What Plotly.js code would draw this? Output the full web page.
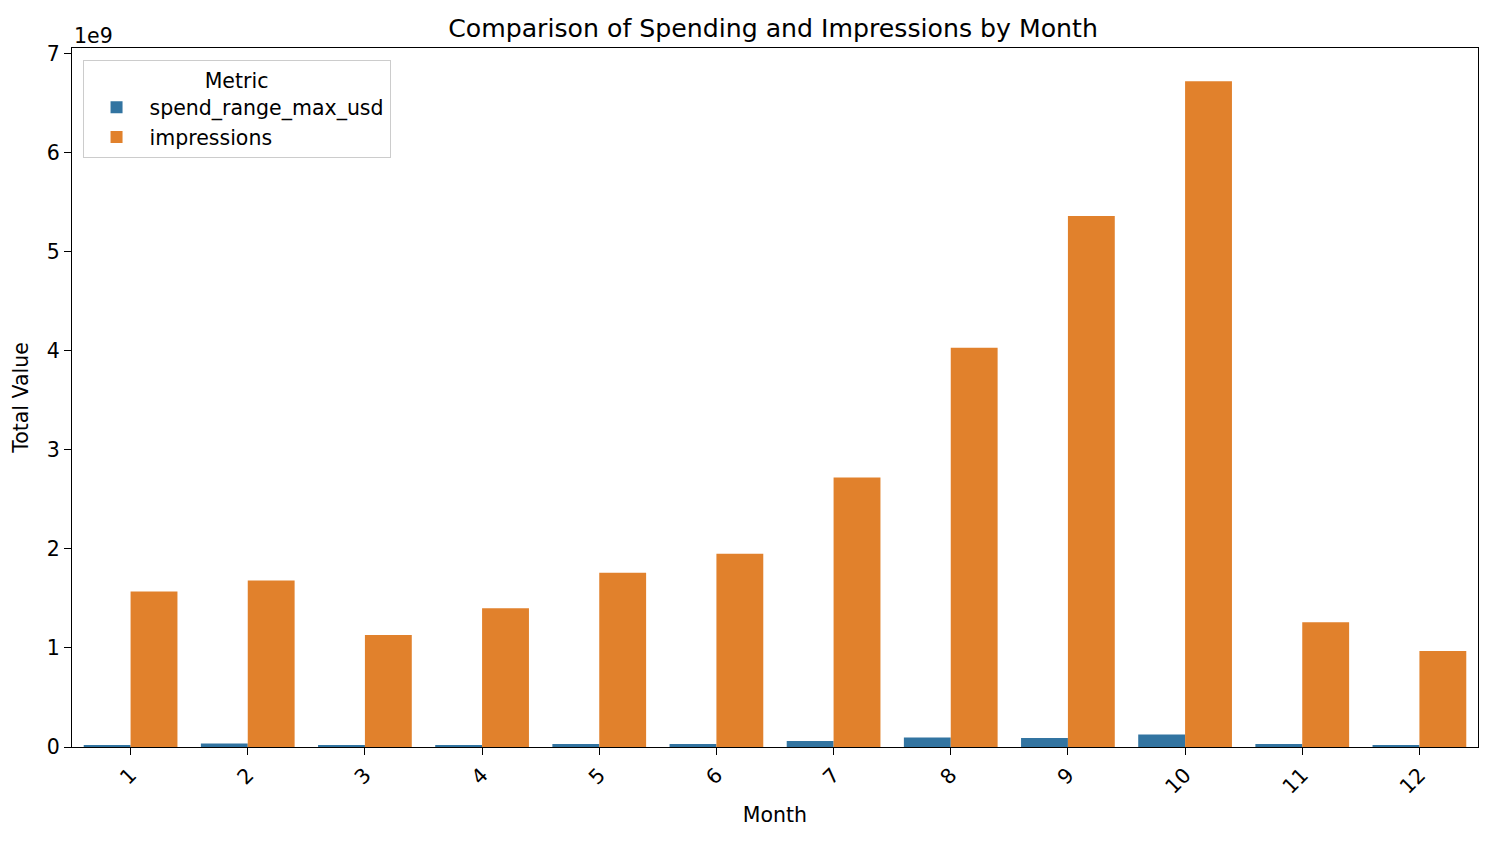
<!DOCTYPE html>
<html>
<head>
<meta charset="utf-8">
<script src="https://cdn.plot.ly/plotly-3.0.1.min.js"></script>
<style>html,body{margin:0;padding:0;background:#fff;}#chart{width:1488px;height:853px;}</style>
</head>
<body>
<div id="chart"></div>
<script>
const months = ["1","2","3","4","5","6","7","8","9","10","11","12"];
const spendRangeMaxUsd = [0.015e9, 0.035e9, 0.015e9, 0.015e9, 0.03e9, 0.03e9, 0.06e9, 0.095e9, 0.09e9, 0.125e9, 0.03e9, 0.015e9];
const impressions = [1.57e9, 1.68e9, 1.13e9, 1.40e9, 1.76e9, 1.95e9, 2.72e9, 4.03e9, 5.36e9, 6.72e9, 1.26e9, 0.97e9];
const yTickVals = [0, 1e9, 2e9, 3e9, 4e9, 5e9, 6e9, 7e9];
const yTickText = ["0","1","2","3","4","5","6","7"];

const font = "DejaVu Sans, sans-serif";
const traces = [
  {type:"bar", name:"spend_range_max_usd", x:months, y:spendRangeMaxUsd, marker:{color:"#3274a1"}},
  {type:"bar", name:"impressions", x:months, y:impressions, marker:{color:"#e1812c"}}
];
const layout = {
  width:1488, height:853,
  margin:{l:72, r:10, t:48, b:106},
  paper_bgcolor:"#fff", plot_bgcolor:"#fff",
  font:{family:font, size:20.5, color:"#000"},
  barmode:"group", bargap:0.2, bargroupgap:0,
  title:{text:"Comparison of Spending and Impressions by Month", x:0.5195, xanchor:"center", y:0.967, yanchor:"middle", font:{size:25.2, family:font}},
  xaxis:{type:"category", range:[-0.5,11.5], tickangle:-45, ticks:"outside", ticklen:7, tickcolor:"#000",
    showline:true, linecolor:"#000", linewidth:1, mirror:true, showgrid:false, zeroline:false,
    tickfont:{size:20.5}, title:{text:"Month", font:{size:20.5}, standoff:10}},
  yaxis:{range:[0,7.056e9], tickvals:yTickVals, ticktext:yTickText, ticks:"outside", ticklen:7, tickcolor:"#000",
    showline:true, linecolor:"#000", linewidth:1, mirror:true, showgrid:false, zeroline:false,
    tickfont:{size:20.5}, title:{text:"Total Value", font:{size:20.5}, standoff:12}},
  legend:{x:0.0075, y:0.983, xanchor:"left", yanchor:"top", bgcolor:"rgba(255,255,255,0.8)", bordercolor:"#cccccc", borderwidth:1,
    title:{text:"Metric", side:"top center", font:{size:20.5}}, font:{size:20.5}, itemwidth:56, tracegroupgap:4},
  annotations:[{text:"1e9", xref:"paper", yref:"paper", x:0, y:1, xanchor:"left", yanchor:"bottom", showarrow:false, font:{size:20.5}, yshift:-2}]
};
Plotly.newPlot("chart", traces, layout, {displayModeBar:false});
</script>
</body>
</html>
